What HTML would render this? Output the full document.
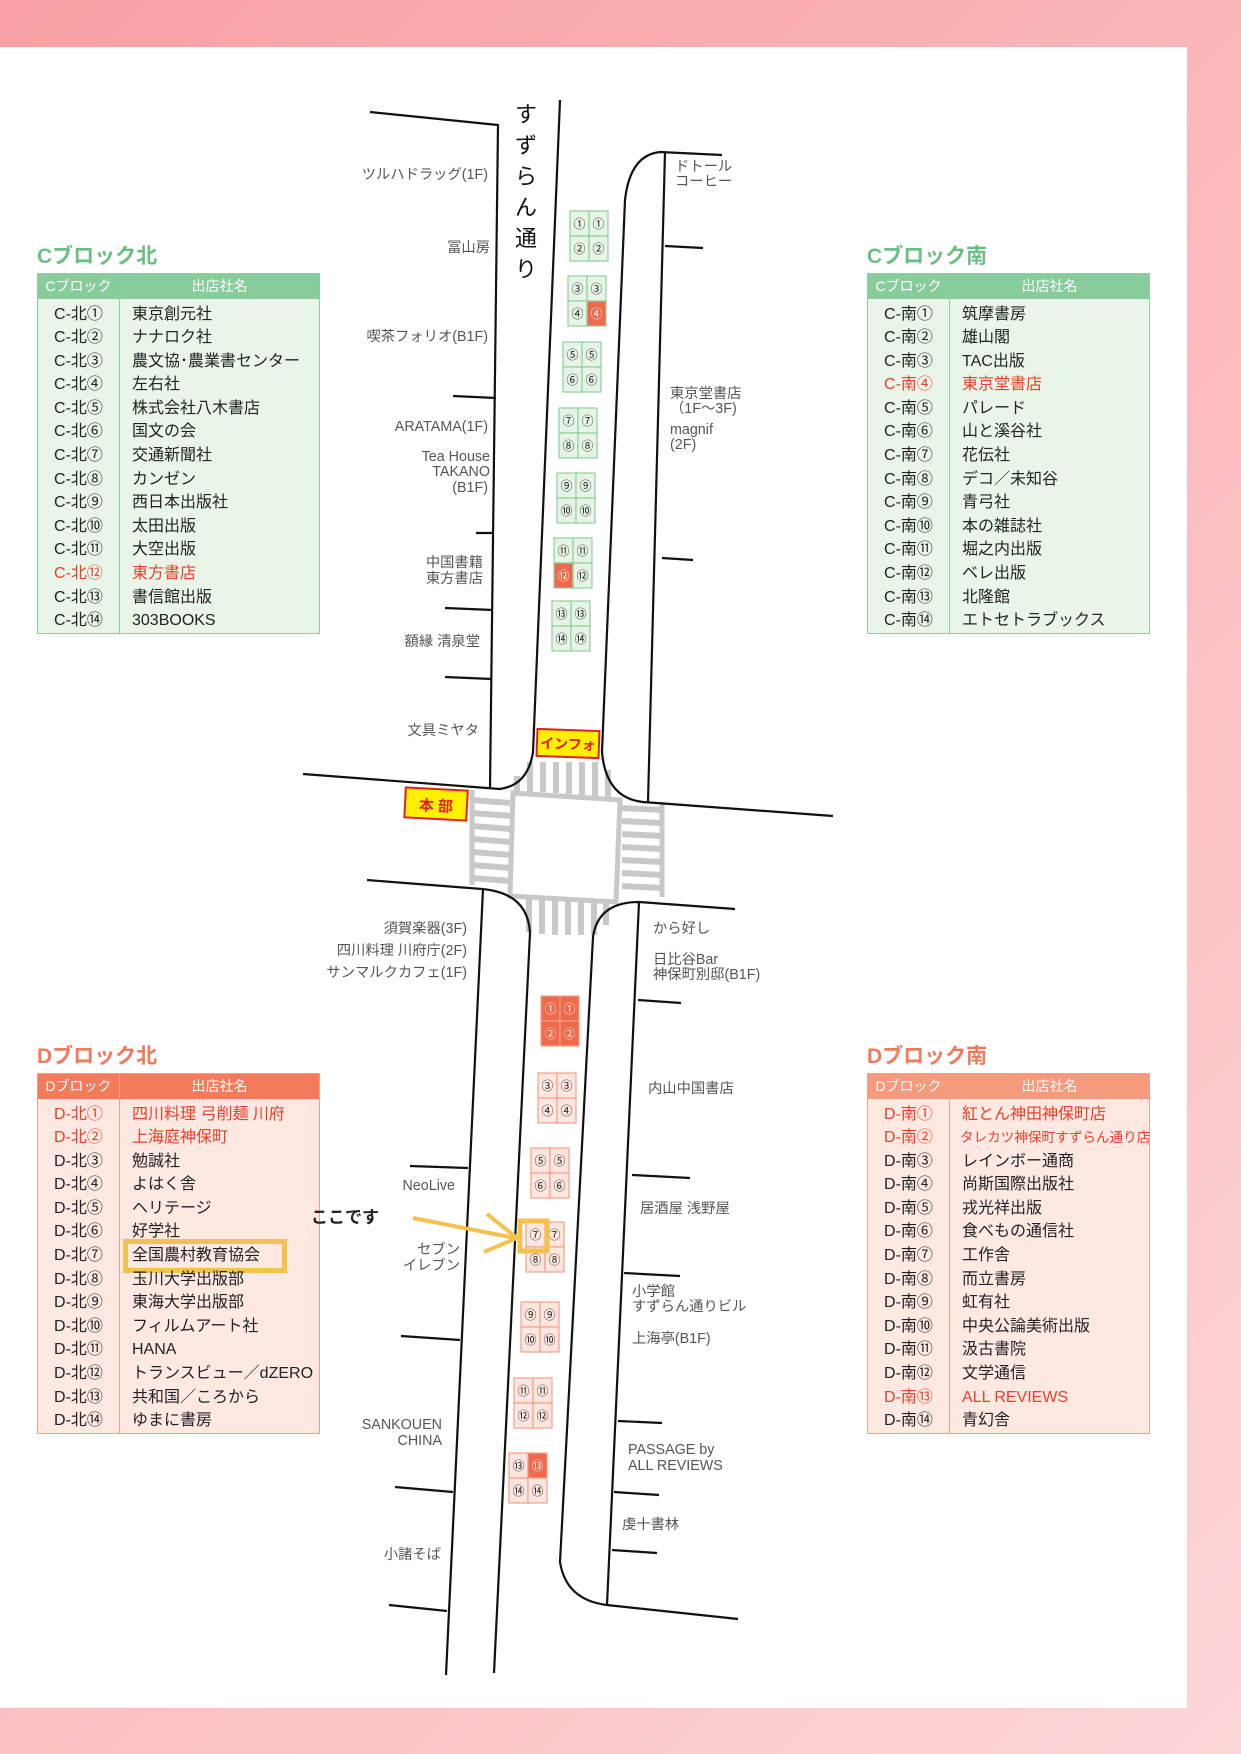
<!DOCTYPE html>
<html><head><meta charset="utf-8"><style>
*{margin:0;padding:0;box-sizing:border-box}
body{width:1241px;height:1754px;position:relative;overflow:hidden;background:linear-gradient(135deg,#f8a0a3 0%,#fcc0c3 60%,#fdd6d7 100%);font-family:"Liberation Sans","Noto Sans CJK JP",sans-serif}
#white{position:absolute;left:0;top:47px;width:1187px;height:1661px;background:#fff}
svg{position:absolute;left:0;top:0}
.tt{position:absolute;font-size:21px;font-weight:bold}
table{position:absolute;border-collapse:collapse;font-size:16px;color:#222;table-layout:fixed}
td{height:23.6px;line-height:23.6px;padding:0;white-space:nowrap;overflow:visible}
th{height:25px;color:#fff;font-weight:normal;font-size:14px}
.c1{text-align:center}
.c2{padding-left:12px}
.r{color:#e8402a}
.g{background:#eaf5ea;border:1.5px solid #8fcf9f}
.g th{background:#88cc9c}
.g th:first-child,.g td:first-child{border-right:1.5px solid #8fcf9f}
.d{background:#fde8e2;border:1.5px solid #f4a088}
.d th{background:#f47a5c}
.d2 th{background:#f59a7c}
.d th:first-child,.d td:first-child{border-right:1.5px solid #f4a088}
tr.f td{padding-top:4px}
.hl{display:inline-block;outline:5px solid #f2c14e;outline-offset:2px;width:150px;line-height:20px;margin-left:-2px;padding-left:2px}
#koko{position:absolute;left:311px;top:1203px;font-size:17px;font-weight:bold;color:#222}
</style></head><body>
<div id="white"></div>
<svg width="1241" height="1754" viewBox="0 0 1241 1754" font-family="Liberation Sans, Noto Sans CJK JP, sans-serif">
<g fill="#c8c8c8">
<path d="M513 793 L620 800 L616 902 L510 896 Z" fill="none" stroke="#c8c8c8" stroke-width="5"/>
<g stroke="#c8c8c8" stroke-width="6">
<line x1="530" y1="762" x2="530" y2="792"/><line x1="543" y1="762" x2="543" y2="792"/><line x1="556" y1="762" x2="556" y2="793"/><line x1="569" y1="762" x2="569" y2="794"/><line x1="582" y1="762" x2="582" y2="795"/><line x1="595" y1="762" x2="595" y2="796"/><line x1="608" y1="770" x2="608" y2="797"/><line x1="517" y1="776" x2="517" y2="792"/>
<line x1="529" y1="899" x2="529" y2="932"/><line x1="542" y1="900" x2="542" y2="934"/><line x1="555" y1="900" x2="555" y2="935"/><line x1="568" y1="901" x2="568" y2="935"/><line x1="581" y1="902" x2="581" y2="935"/><line x1="594" y1="902" x2="594" y2="935"/><line x1="606" y1="902" x2="606" y2="925"/>
<line x1="472" y1="800" x2="510" y2="803"/><line x1="472" y1="813" x2="510" y2="816"/><line x1="472" y1="826" x2="510" y2="829"/><line x1="472" y1="839" x2="510" y2="842"/><line x1="472" y1="852" x2="510" y2="855"/><line x1="472" y1="865" x2="510" y2="868"/><line x1="472" y1="878" x2="510" y2="881"/>
<line x1="622" y1="808" x2="662" y2="810"/><line x1="622" y1="821" x2="662" y2="823"/><line x1="622" y1="834" x2="662" y2="836"/><line x1="622" y1="847" x2="662" y2="849"/><line x1="622" y1="860" x2="662" y2="862"/><line x1="622" y1="873" x2="662" y2="875"/><line x1="622" y1="886" x2="662" y2="888"/>
</g>
<line x1="472" y1="790" x2="472" y2="885" stroke="#c8c8c8" stroke-width="5"/>
<line x1="662" y1="802" x2="662" y2="897" stroke="#c8c8c8" stroke-width="5"/>
</g>
<g fill="none" stroke="#111" stroke-width="2.2">
<path d="M370 112 L498 125 L490 788"/>
<path d="M303 774 L500 789 Q528 785 533 752 L560 100"/>
<path d="M602 752 Q606 798 643 802 L833 816"/>
<path d="M602 752 L625 200 Q630 155 660 152 L722 155"/>
<path d="M665 152 L648 802"/>
<line x1="665" y1="246" x2="703" y2="248"/><line x1="662" y1="558" x2="693" y2="560"/>
<line x1="453" y1="396" x2="496" y2="398"/><line x1="476" y1="533" x2="494" y2="533"/><line x1="445" y1="608" x2="493" y2="610"/><line x1="445" y1="677" x2="492" y2="679"/>
<path d="M367 880 L482 889 Q528 893 530 933 L494 1673"/>
<path d="M483 889 L446 1675"/>
<path d="M735 909 L639 902 Q598 902 593 937 L560 1562 Q566 1600 607 1605 L738 1619"/>
<path d="M639 902 L607 1605"/>
<line x1="638" y1="1000" x2="681" y2="1003"/><line x1="632" y1="1175" x2="690" y2="1178"/><line x1="624" y1="1273" x2="680" y2="1276"/>
<line x1="618" y1="1421" x2="662" y2="1423"/><line x1="614" y1="1492" x2="659" y2="1495"/><line x1="612" y1="1550" x2="657" y2="1553"/>
<line x1="410" y1="1166" x2="468" y2="1168"/><line x1="401" y1="1336" x2="460" y2="1340"/><line x1="395" y1="1487" x2="453" y2="1492"/><line x1="389" y1="1605" x2="447" y2="1611"/>
</g>
<g font-size="22" fill="#111"><text x="515" y="122">す</text><text x="515" y="153">ず</text><text x="515" y="184">ら</text><text x="515" y="215">ん</text><text x="515" y="246">通</text><text x="515" y="277">り</text></g>
<g font-size="14.3" fill="#555" text-anchor="end">
<text x="488" y="179">ツルハドラッグ(1F)</text>
<text x="490" y="252">冨山房</text>
<text x="488" y="341">喫茶フォリオ(B1F)</text>
<text x="488" y="431">ARATAMA(1F)</text>
<text x="490" y="461">Tea House</text><text x="490" y="476">TAKANO</text><text x="488" y="492">(B1F)</text>
<text x="483" y="567">中国書籍</text><text x="483" y="583">東方書店</text>
<text x="480" y="646">額縁 清泉堂</text>
<text x="479" y="735">文具ミヤタ</text>
<text x="467" y="933">須賀楽器(3F)</text><text x="467" y="955">四川料理 川府庁(2F)</text><text x="467" y="977">サンマルクカフェ(1F)</text>
<text x="455" y="1190">NeoLive</text>
<text x="460" y="1254">セブン</text><text x="460" y="1270">イレブン</text>
<text x="442" y="1429">SANKOUEN</text><text x="442" y="1445">CHINA</text>
<text x="441" y="1559">小諸そば</text>
</g>
<g font-size="14.3" fill="#555">
<text x="675" y="171">ドトール</text><text x="675" y="186">コーヒー</text>
<text x="670" y="398">東京堂書店</text><text x="670" y="413">（1F〜3F)</text>
<text x="670" y="434">magnif</text><text x="670" y="449">(2F)</text>
<text x="653" y="933">から好し</text>
<text x="653" y="964">日比谷Bar</text><text x="653" y="979">神保町別邸(B1F)</text>
<text x="648" y="1093">内山中国書店</text>
<text x="640" y="1213">居酒屋 浅野屋</text>
<text x="632" y="1296">小学館</text><text x="632" y="1311">すずらん通りビル</text>
<text x="632" y="1343">上海亭(B1F)</text>
<text x="628" y="1454">PASSAGE by</text><text x="628" y="1470">ALL REVIEWS</text>
<text x="622" y="1529">虔十書林</text>
</g>
<g font-size="12" text-anchor="middle" stroke-width="1.2">
<g transform="translate(570,211)" fill="#e6f4e6" stroke="#8fcf9f"><rect width="19" height="25"/><rect x="19" width="19" height="25"/><rect y="25" width="19" height="25"/><rect x="19" y="25" width="19" height="25"/><g fill="#222" stroke="none"><text x="9.5" y="17">①</text><text x="28.5" y="17">①</text><text x="9.5" y="42">②</text><text x="28.5" y="42">②</text></g></g>
<g transform="translate(568,276)" fill="#e6f4e6" stroke="#8fcf9f"><rect width="19" height="25"/><rect x="19" width="19" height="25"/><rect y="25" width="19" height="25"/><rect x="19" y="25" width="19" height="25" fill="#ef6a4c"/><g fill="#222" stroke="none"><text x="9.5" y="17">③</text><text x="28.5" y="17">③</text><text x="9.5" y="42">④</text><text x="28.5" y="42" fill="#fff">④</text></g></g>
<g transform="translate(563,342)" fill="#e6f4e6" stroke="#8fcf9f"><rect width="19" height="25"/><rect x="19" width="19" height="25"/><rect y="25" width="19" height="25"/><rect x="19" y="25" width="19" height="25"/><g fill="#222" stroke="none"><text x="9.5" y="17">⑤</text><text x="28.5" y="17">⑤</text><text x="9.5" y="42">⑥</text><text x="28.5" y="42">⑥</text></g></g>
<g transform="translate(559,408)" fill="#e6f4e6" stroke="#8fcf9f"><rect width="19" height="25"/><rect x="19" width="19" height="25"/><rect y="25" width="19" height="25"/><rect x="19" y="25" width="19" height="25"/><g fill="#222" stroke="none"><text x="9.5" y="17">⑦</text><text x="28.5" y="17">⑦</text><text x="9.5" y="42">⑧</text><text x="28.5" y="42">⑧</text></g></g>
<g transform="translate(557,473)" fill="#e6f4e6" stroke="#8fcf9f"><rect width="19" height="25"/><rect x="19" width="19" height="25"/><rect y="25" width="19" height="25"/><rect x="19" y="25" width="19" height="25"/><g fill="#222" stroke="none"><text x="9.5" y="17">⑨</text><text x="28.5" y="17">⑨</text><text x="9.5" y="42">⑩</text><text x="28.5" y="42">⑩</text></g></g>
<g transform="translate(554,538)" fill="#e6f4e6" stroke="#8fcf9f"><rect width="19" height="25"/><rect x="19" width="19" height="25"/><rect y="25" width="19" height="25" fill="#ef6a4c"/><rect x="19" y="25" width="19" height="25"/><g fill="#222" stroke="none"><text x="9.5" y="17">⑪</text><text x="28.5" y="17">⑪</text><text x="9.5" y="42" fill="#fff">⑫</text><text x="28.5" y="42">⑫</text></g></g>
<g transform="translate(552,601)" fill="#e6f4e6" stroke="#8fcf9f"><rect width="19" height="25"/><rect x="19" width="19" height="25"/><rect y="25" width="19" height="25"/><rect x="19" y="25" width="19" height="25"/><g fill="#222" stroke="none"><text x="9.5" y="17">⑬</text><text x="28.5" y="17">⑬</text><text x="9.5" y="42">⑭</text><text x="28.5" y="42">⑭</text></g></g>
</g>
<g font-size="12" text-anchor="middle" stroke-width="1.2">
<g transform="translate(541,996)" fill="#ef6a4c" stroke="#f4a088"><rect width="19" height="25"/><rect x="19" width="19" height="25"/><rect y="25" width="19" height="25"/><rect x="19" y="25" width="19" height="25"/><g fill="#fff" stroke="none"><text x="9.5" y="17">①</text><text x="28.5" y="17">①</text><text x="9.5" y="42">②</text><text x="28.5" y="42">②</text></g></g>
<g transform="translate(538,1073)" fill="#fde6df" stroke="#f4a088"><rect width="19" height="25"/><rect x="19" width="19" height="25"/><rect y="25" width="19" height="25"/><rect x="19" y="25" width="19" height="25"/><g fill="#222" stroke="none"><text x="9.5" y="17">③</text><text x="28.5" y="17">③</text><text x="9.5" y="42">④</text><text x="28.5" y="42">④</text></g></g>
<g transform="translate(531,1148)" fill="#fde6df" stroke="#f4a088"><rect width="19" height="25"/><rect x="19" width="19" height="25"/><rect y="25" width="19" height="25"/><rect x="19" y="25" width="19" height="25"/><g fill="#222" stroke="none"><text x="9.5" y="17">⑤</text><text x="28.5" y="17">⑤</text><text x="9.5" y="42">⑥</text><text x="28.5" y="42">⑥</text></g></g>
<g transform="translate(526,1222)" fill="#fde6df" stroke="#f4a088"><rect width="19" height="25"/><rect x="19" width="19" height="25"/><rect y="25" width="19" height="25"/><rect x="19" y="25" width="19" height="25"/><g fill="#222" stroke="none"><text x="9.5" y="17">⑦</text><text x="28.5" y="17">⑦</text><text x="9.5" y="42">⑧</text><text x="28.5" y="42">⑧</text></g></g>
<g transform="translate(521,1302)" fill="#fde6df" stroke="#f4a088"><rect width="19" height="25"/><rect x="19" width="19" height="25"/><rect y="25" width="19" height="25"/><rect x="19" y="25" width="19" height="25"/><g fill="#222" stroke="none"><text x="9.5" y="17">⑨</text><text x="28.5" y="17">⑨</text><text x="9.5" y="42">⑩</text><text x="28.5" y="42">⑩</text></g></g>
<g transform="translate(514,1378)" fill="#fde6df" stroke="#f4a088"><rect width="19" height="25"/><rect x="19" width="19" height="25"/><rect y="25" width="19" height="25"/><rect x="19" y="25" width="19" height="25"/><g fill="#222" stroke="none"><text x="9.5" y="17">⑪</text><text x="28.5" y="17">⑪</text><text x="9.5" y="42">⑫</text><text x="28.5" y="42">⑫</text></g></g>
<g transform="translate(509,1453)" fill="#fde6df" stroke="#f4a088"><rect width="19" height="25"/><rect x="19" width="19" height="25" fill="#ef6a4c"/><rect y="25" width="19" height="25"/><rect x="19" y="25" width="19" height="25"/><g fill="#222" stroke="none"><text x="9.5" y="17">⑬</text><text x="28.5" y="17" fill="#fff">⑬</text><text x="9.5" y="42">⑭</text><text x="28.5" y="42">⑭</text></g></g>
</g>
<rect x="520" y="1221" width="27" height="30" fill="none" stroke="#f2c14e" stroke-width="5"/>
<g stroke="#f2c14e" stroke-width="4" fill="none"><line x1="413" y1="1218" x2="515" y2="1238"/><polyline points="487,1214 517,1238 484,1252"/></g>
<g transform="rotate(2 568 743)"><rect x="537" y="730" width="62" height="27" fill="#fff000" stroke="#e02020" stroke-width="2"/><text x="568" y="749" font-size="14" font-weight="bold" fill="#e02020" text-anchor="middle">インフォ</text></g>
<g transform="rotate(3 436 805)"><rect x="405" y="789" width="62" height="30" fill="#fff000" stroke="#e02020" stroke-width="2"/><text x="436" y="811" font-size="15" font-weight="bold" fill="#e02020" text-anchor="middle">本 部</text></g>
</svg>

<div class="tt" style="left:37px;top:240px;color:#6cbf84">Cブロック北</div>
<table class="g" style="left:37px;top:273px;width:282px">
<colgroup><col style="width:82px"><col style="width:200px"></colgroup>
<tr><th class="c1">Cブロック</th><th>出店社名</th></tr>
<tr class="f"><td class="c1">C-北①</td><td class="c2">東京創元社</td></tr>
<tr><td class="c1">C-北②</td><td class="c2">ナナロク社</td></tr>
<tr><td class="c1">C-北③</td><td class="c2">農文協･農業書センター</td></tr>
<tr><td class="c1">C-北④</td><td class="c2">左右社</td></tr>
<tr><td class="c1">C-北⑤</td><td class="c2">株式会社八木書店</td></tr>
<tr><td class="c1">C-北⑥</td><td class="c2">国文の会</td></tr>
<tr><td class="c1">C-北⑦</td><td class="c2">交通新聞社</td></tr>
<tr><td class="c1">C-北⑧</td><td class="c2">カンゼン</td></tr>
<tr><td class="c1">C-北⑨</td><td class="c2">西日本出版社</td></tr>
<tr><td class="c1">C-北⑩</td><td class="c2">太田出版</td></tr>
<tr><td class="c1">C-北⑪</td><td class="c2">大空出版</td></tr>
<tr class="r"><td class="c1">C-北⑫</td><td class="c2">東方書店</td></tr>
<tr><td class="c1">C-北⑬</td><td class="c2">書信館出版</td></tr>
<tr><td class="c1">C-北⑭</td><td class="c2">303BOOKS</td></tr>
</table>

<div class="tt" style="left:867px;top:240px;color:#6cbf84">Cブロック南</div>
<table class="g" style="left:867px;top:273px;width:282px">
<colgroup><col style="width:82px"><col style="width:200px"></colgroup>
<tr><th class="c1">Cブロック</th><th>出店社名</th></tr>
<tr class="f"><td class="c1">C-南①</td><td class="c2">筑摩書房</td></tr>
<tr><td class="c1">C-南②</td><td class="c2">雄山閣</td></tr>
<tr><td class="c1">C-南③</td><td class="c2">TAC出版</td></tr>
<tr class="r"><td class="c1">C-南④</td><td class="c2">東京堂書店</td></tr>
<tr><td class="c1">C-南⑤</td><td class="c2">パレード</td></tr>
<tr><td class="c1">C-南⑥</td><td class="c2">山と溪谷社</td></tr>
<tr><td class="c1">C-南⑦</td><td class="c2">花伝社</td></tr>
<tr><td class="c1">C-南⑧</td><td class="c2">デコ／未知谷</td></tr>
<tr><td class="c1">C-南⑨</td><td class="c2">青弓社</td></tr>
<tr><td class="c1">C-南⑩</td><td class="c2">本の雑誌社</td></tr>
<tr><td class="c1">C-南⑪</td><td class="c2">堀之内出版</td></tr>
<tr><td class="c1">C-南⑫</td><td class="c2">ベレ出版</td></tr>
<tr><td class="c1">C-南⑬</td><td class="c2">北隆館</td></tr>
<tr><td class="c1">C-南⑭</td><td class="c2">エトセトラブックス</td></tr>
</table>

<div class="tt" style="left:37px;top:1040px;color:#f07a5c">Dブロック北</div>
<table class="d" style="left:37px;top:1073px;width:282px">
<colgroup><col style="width:82px"><col style="width:200px"></colgroup>
<tr><th class="c1">Dブロック</th><th>出店社名</th></tr>
<tr class="f r"><td class="c1">D-北①</td><td class="c2">四川料理 弓削麺 川府</td></tr>
<tr class="r"><td class="c1">D-北②</td><td class="c2">上海庭神保町</td></tr>
<tr><td class="c1">D-北③</td><td class="c2">勉誠社</td></tr>
<tr><td class="c1">D-北④</td><td class="c2">よはく舎</td></tr>
<tr><td class="c1">D-北⑤</td><td class="c2">ヘリテージ</td></tr>
<tr><td class="c1">D-北⑥</td><td class="c2">好学社</td></tr>
<tr><td class="c1">D-北⑦</td><td class="c2"><span class="hl">全国農村教育協会</span></td></tr>
<tr><td class="c1">D-北⑧</td><td class="c2">玉川大学出版部</td></tr>
<tr><td class="c1">D-北⑨</td><td class="c2">東海大学出版部</td></tr>
<tr><td class="c1">D-北⑩</td><td class="c2">フィルムアート社</td></tr>
<tr><td class="c1">D-北⑪</td><td class="c2">HANA</td></tr>
<tr><td class="c1">D-北⑫</td><td class="c2">トランスビュー／dZERO</td></tr>
<tr><td class="c1">D-北⑬</td><td class="c2">共和国／ころから</td></tr>
<tr><td class="c1">D-北⑭</td><td class="c2">ゆまに書房</td></tr>
</table>

<div class="tt" style="left:867px;top:1040px;color:#f07a5c">Dブロック南</div>
<table class="d d2" style="left:867px;top:1073px;width:282px">
<colgroup><col style="width:82px"><col style="width:200px"></colgroup>
<tr><th class="c1">Dブロック</th><th>出店社名</th></tr>
<tr class="f r"><td class="c1">D-南①</td><td class="c2">紅とん神田神保町店</td></tr>
<tr class="r"><td class="c1">D-南②</td><td class="c2" style="font-size:13.6px;padding-left:10px">タレカツ神保町すずらん通り店</td></tr>
<tr><td class="c1">D-南③</td><td class="c2">レインボー通商</td></tr>
<tr><td class="c1">D-南④</td><td class="c2">尚斯国際出版社</td></tr>
<tr><td class="c1">D-南⑤</td><td class="c2">戎光祥出版</td></tr>
<tr><td class="c1">D-南⑥</td><td class="c2">食べもの通信社</td></tr>
<tr><td class="c1">D-南⑦</td><td class="c2">工作舎</td></tr>
<tr><td class="c1">D-南⑧</td><td class="c2">而立書房</td></tr>
<tr><td class="c1">D-南⑨</td><td class="c2">虹有社</td></tr>
<tr><td class="c1">D-南⑩</td><td class="c2">中央公論美術出版</td></tr>
<tr><td class="c1">D-南⑪</td><td class="c2">汲古書院</td></tr>
<tr><td class="c1">D-南⑫</td><td class="c2">文学通信</td></tr>
<tr class="r"><td class="c1">D-南⑬</td><td class="c2">ALL REVIEWS</td></tr>
<tr><td class="c1">D-南⑭</td><td class="c2">青幻舎</td></tr>
</table>
<div id="koko">ここです</div>
</body></html>
